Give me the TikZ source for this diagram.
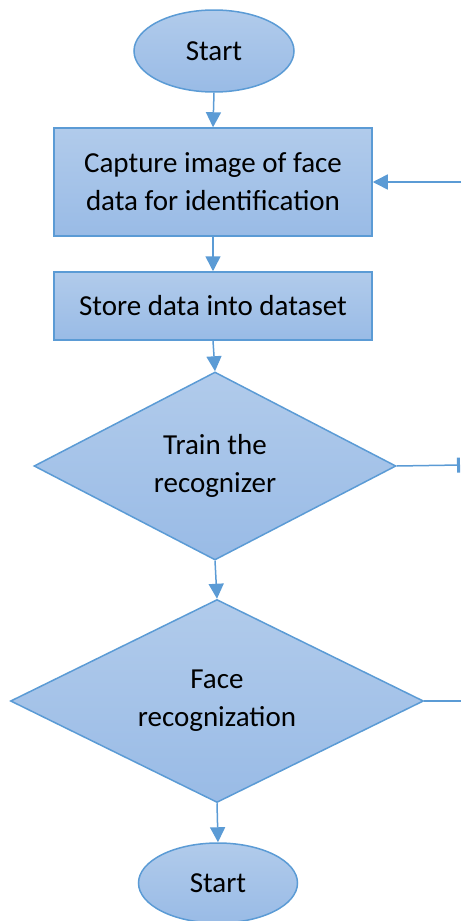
\documentclass[tikz,border=0pt]{standalone}
\usepackage{fontspec}
\setmainfont{Carlito}
\usetikzlibrary{shapes.geometric,arrows.meta}
\definecolor{edgeblue}{RGB}{91,155,213}
\definecolor{filltop}{RGB}{177,203,235}
\definecolor{fillbot}{RGB}{153,187,230}
\tikzset{
  flowshape/.style={draw=edgeblue, line width=1.5pt, top color=filltop, bottom color=fillbot, align=center, inner sep=0pt, font=\fontsize{29}{38}\selectfont},
  termbox/.style={flowshape, ellipse, minimum width=160pt, minimum height=82pt},
  procbox/.style={flowshape, rectangle, minimum width=318pt},
  decbox/.style={flowshape, diamond, aspect=2},
  conn/.style={draw=edgeblue, line width=1.5pt, -{Triangle[width=15pt,length=15pt]}},
  plainconn/.style={draw=edgeblue, line width=1.5pt},
  barconn/.style={draw=edgeblue, line width=1.5pt, -{Bar[width=15pt,line width=3pt]}}
}
\begin{document}
\begin{tikzpicture}[x=1pt,y=-1pt]
\useasboundingbox (0,0) rectangle (461,921);
\node[termbox] (start) at (214,51) {Start};
\node[procbox, minimum height=108pt] (capture) at (213,182) {Capture image of face\\data for identification};
\node[procbox, minimum height=68pt] (store) at (213,306) {Store data into dataset};
\node[decbox, minimum width=362pt, minimum height=188pt] (train) at (215,466) {Train the\\recognizer};
\node[decbox, minimum width=413pt, minimum height=203pt] (face) at (217,701) {Face\\recognization};
\node[termbox, minimum width=159pt, minimum height=80pt] (end) at (218,883) {Start};
\coordinate (inR) at (461,182);
\coordinate (outA) at (460,465);
\coordinate (outB) at (461,701);
\draw[conn] (start.south) -- (capture.north);
\draw[conn] (capture.south) -- (store.north);
\draw[conn] (store.south) -- (train.north);
\draw[conn] (train.south) -- (face.north);
\draw[conn] (face.south) -- (end.north);
\draw[conn] (inR) -- (capture.east);
\draw[barconn] (train.east) -- (outA);
\draw[plainconn] (face.east) -- (outB);
\end{tikzpicture}
\end{document}
